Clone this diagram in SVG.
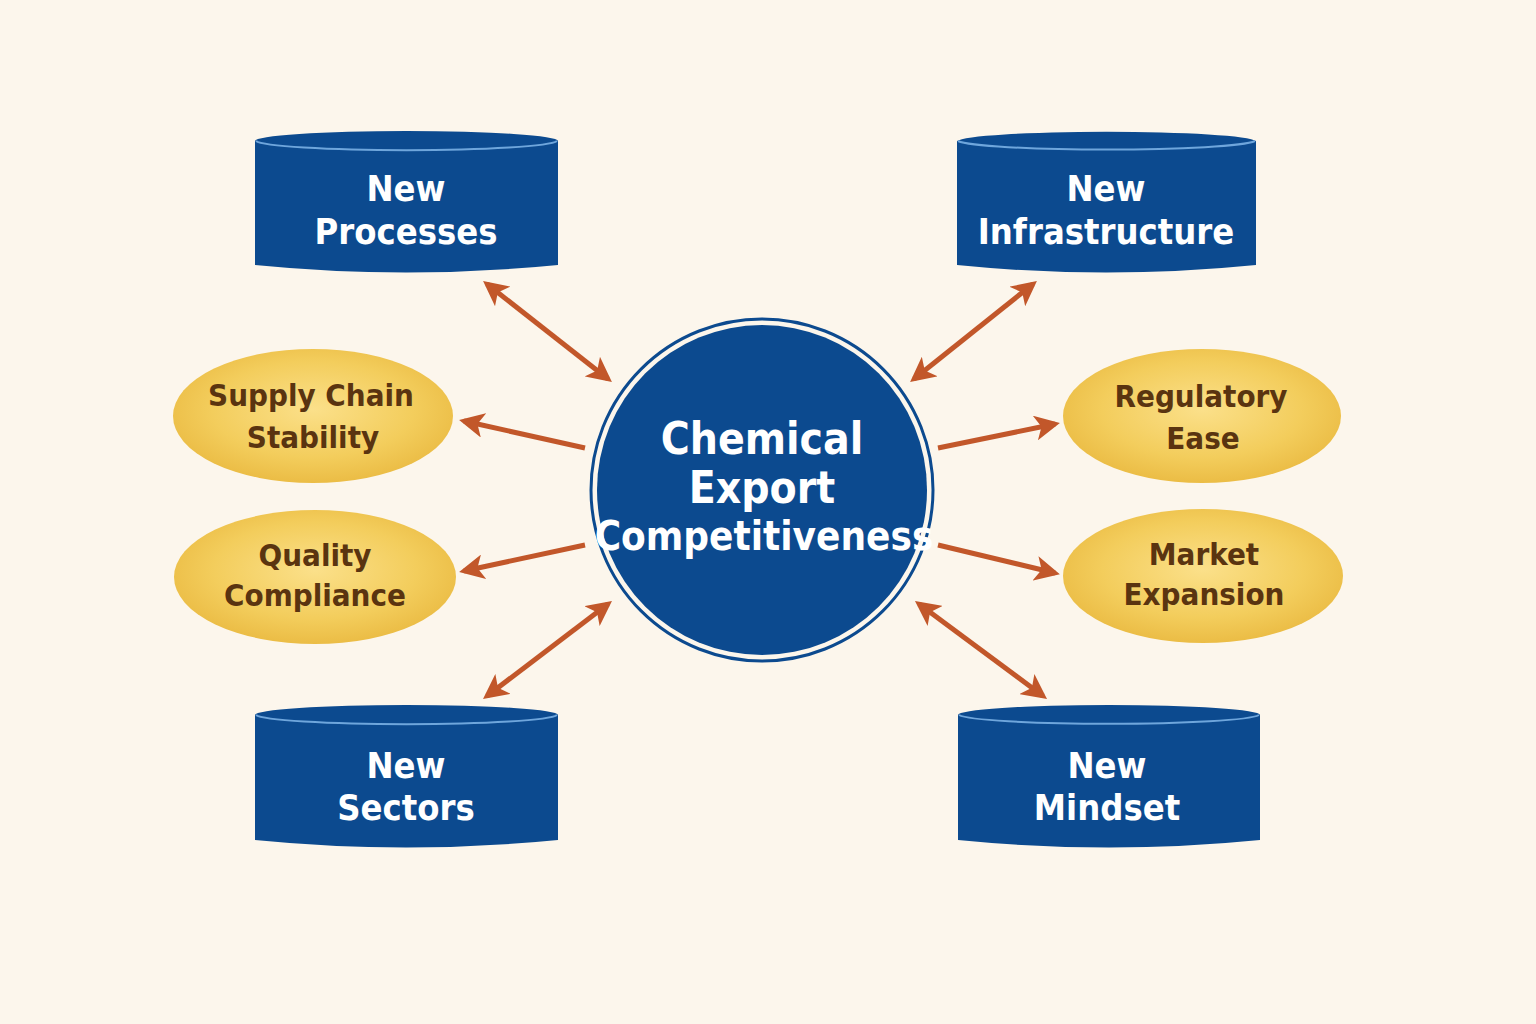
<svg xmlns="http://www.w3.org/2000/svg" width="1536" height="1024" viewBox="0 0 1536 1024">
<defs>
<radialGradient id="gold" cx="50%" cy="45%" r="60%">
<stop offset="0" stop-color="#fbe08a"/><stop offset="0.6" stop-color="#f3cd5c"/><stop offset="1" stop-color="#e9b83f"/>
</radialGradient>
<marker id="ah" viewBox="0 0 10 10" refX="8" refY="5" markerWidth="5" markerHeight="5" orient="auto-start-reverse" markerUnits="strokeWidth">
<path d="M0,0 L10,5 L0,10 L2.5,5 Z" fill="#c2572a"/>
</marker>
<style>
.cyl{fill:#0c4a8f}
.rim{fill:none;stroke:#6fa6dc;stroke-width:2}
.wt{font-family:"DejaVu Sans Condensed","Liberation Sans",sans-serif;font-weight:bold;fill:#fff;text-anchor:middle}
.bt{font-family:"DejaVu Sans Condensed","Liberation Sans",sans-serif;font-weight:bold;fill:#5a3410;text-anchor:middle;font-size:31px}
.ell{fill:url(#gold)}
.arr{stroke:#c2572a;stroke-width:5;fill:none}
</style>
</defs>
<rect width="1536" height="1024" fill="#fcf6ec"/>
<g id="connectors">
<line class="arr" x1="487" y1="284" x2="608" y2="379" marker-start="url(#ah)" marker-end="url(#ah)"/>
<line class="arr" x1="1033" y1="284" x2="914" y2="379" marker-start="url(#ah)" marker-end="url(#ah)"/>
<line class="arr" x1="487" y1="696" x2="608" y2="604" marker-start="url(#ah)" marker-end="url(#ah)"/>
<line class="arr" x1="919" y1="604" x2="1043" y2="696" marker-start="url(#ah)" marker-end="url(#ah)"/>
<line class="arr" x1="585" y1="448" x2="464" y2="421" marker-end="url(#ah)"/>
<line class="arr" x1="585" y1="545" x2="464" y2="571" marker-end="url(#ah)"/>
<line class="arr" x1="938" y1="448" x2="1055" y2="424" marker-end="url(#ah)"/>
<line class="arr" x1="938" y1="545" x2="1055" y2="573" marker-end="url(#ah)"/>
</g>
<g id="center">
<circle cx="762" cy="490" r="171" fill="none" stroke="#0c4a8f" stroke-width="3"/>
<circle cx="762" cy="490" r="165" fill="#0c4a8f"/>
<text class="wt" font-size="44" x="762" y="454">Chemical</text>
<text class="wt" font-size="44" x="762" y="503">Export</text>
<text class="wt" font-size="40" x="764" y="550">Competitiveness</text>
</g>
<g id="new-processes">
<path class="cyl" d="M255,141 A151,10 0 0 1 558,141 L558,265 Q406,280 255,265 Z"/>
<path class="rim" d="M256,141 A151,10 0 0 0 557,141"/>
<text class="wt" font-size="36" x="406" y="201">New</text>
<text class="wt" font-size="36" x="406" y="244">Processes</text>
</g>
<g id="new-infrastructure">
<path class="cyl" d="M957,141 A150,10 0 0 1 1256,141 L1256,265 Q1106,280 957,265 Z"/>
<path class="rim" d="M958,141 A150,10 0 0 0 1255,141"/>
<text class="wt" font-size="36" x="1106" y="201">New</text>
<text class="wt" font-size="36" x="1106" y="244">Infrastructure</text>
</g>
<g id="new-sectors">
<path class="cyl" d="M255,715 A151,10 0 0 1 558,715 L558,840 Q406,855 255,840 Z"/>
<path class="rim" d="M256,715 A151,10 0 0 0 557,715"/>
<text class="wt" font-size="36" x="406" y="778">New</text>
<text class="wt" font-size="36" x="406" y="820">Sectors</text>
</g>
<g id="new-mindset">
<path class="cyl" d="M958,715 A151,10 0 0 1 1260,715 L1260,840 Q1109,855 958,840 Z"/>
<path class="rim" d="M959,715 A151,10 0 0 0 1259,715"/>
<text class="wt" font-size="36" x="1107" y="778">New</text>
<text class="wt" font-size="36" x="1107" y="820">Mindset</text>
</g>
<g id="supply-chain">
<ellipse class="ell" cx="313" cy="416" rx="140" ry="67"/>
<text class="bt" x="311" y="406">Supply Chain</text>
<text class="bt" x="313" y="448">Stability</text>
</g>
<g id="quality">
<ellipse class="ell" cx="315" cy="577" rx="141" ry="67"/>
<text class="bt" x="315" y="566">Quality</text>
<text class="bt" x="315" y="606">Compliance</text>
</g>
<g id="regulatory">
<ellipse class="ell" cx="1202" cy="416" rx="139" ry="67"/>
<text class="bt" x="1201" y="407">Regulatory</text>
<text class="bt" x="1203" y="449">Ease</text>
</g>
<g id="market">
<ellipse class="ell" cx="1203" cy="576" rx="140" ry="67"/>
<text class="bt" x="1204" y="565">Market</text>
<text class="bt" x="1204" y="605">Expansion</text>
</g>
</svg>
